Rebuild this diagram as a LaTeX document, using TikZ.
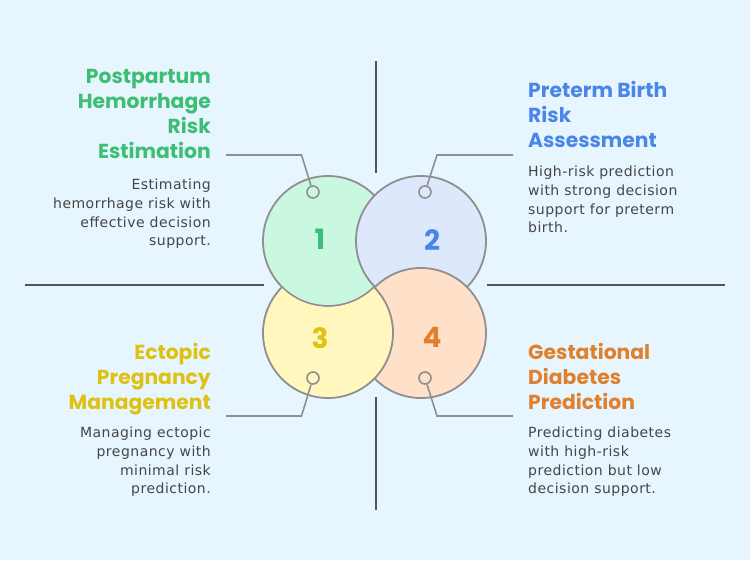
\documentclass[tikz,border=0pt]{standalone}
\usepackage{fontspec}
\usepackage{tikz}
\usetikzlibrary{positioning}
\usepackage{xcolor}
\newfontfamily\headfont{Poppins}
\newfontfamily\bodyfont{DejaVu Sans}[LetterSpace=3.5]
\definecolor{bgblue}{HTML}{E7F6FE}
\definecolor{axisgray}{HTML}{555555}
\definecolor{linegray}{HTML}{8F8F8F}
\definecolor{bodygray}{HTML}{454545}
\definecolor{titlegreen}{HTML}{3CBE74}
\definecolor{titleblue}{HTML}{4A86E8}
\definecolor{titleyellow}{HTML}{DEC112}
\definecolor{titleorange}{HTML}{E07F2C}
\definecolor{fillgreen}{HTML}{C9F7DF}
\definecolor{fillblue}{HTML}{DDE8FD}
\definecolor{fillyellow}{HTML}{FFF7BE}
\definecolor{fillpeach}{HTML}{FFE0C8}
\tikzset{%
	every petal/.style={
		circle,
		draw=linegray,
		line width=1.8pt,
		minimum size=130pt,
		inner sep=0pt
	},
	pin dot/.style={
		circle,
		draw=linegray,
		line width=1.6pt,
		minimum size=12pt,
		inner sep=0pt
	},
}

\begin{document}
\begin{tikzpicture}[
			x=1pt, y=-1pt,
			axis/.style={draw=axisgray, line width=2pt},
			link/.style={draw=linegray, line width=1.6pt},
			num/.style={font=\headfont\bfseries\fontsize{28}{28}\selectfont},
			head/.style={inner sep=0pt, font=\headfont\bfseries\fontsize{20.3}{25}\selectfont},
			body/.style={inner sep=0pt, text=bodygray, font=\bodyfont\fontsize{14}{18.7}\selectfont}
			]
			
			% Background and axes
			\fill[bgblue] (0,0) rectangle (750,560);
			\draw[axis] (375.5,61) -- (375.5,173);
			\draw[axis] (375.5,397) -- (375.5,510);
			\draw[axis] (25,285) -- (264,285);
			\draw[axis] (487,285) -- (725,285);
			
			% Circles (1 under 2, 2 under 4, 4 under 3, 3 under 1)
			\node[every petal, fill=fillgreen] (c1) at (328,241) {};
			\node[every petal, fill=fillblue] (c2) at (421,241) {};
			\node[every petal, fill=fillpeach] (c4) at (421,333) {};
			\begin{scope}[even odd rule]
				\clip (0,0) rectangle (750,560) (c1.center) circle (65.9pt);
				\node[every petal, fill=fillyellow] (c3) at (328,333) {};
			\end{scope}
			
			\node[num, text=titlegreen] (n1) at (320,239) {1};
			\node[num, text=titleblue] (n2) at (432,240) {2};
			\node[num, text=titleyellow] (n3) at (320,338) {3};
			\node[num, text=titleorange] (n4) at (432,337) {4};
			
			% Pins and connectors
			\node[pin dot] (d1) at (313,192) {};
			\node[pin dot] (d2) at (425,192) {};
			\node[pin dot] (d3) at (313,378) {};
			\node[pin dot] (d4) at (425,378) {};
			\coordinate (k1) at (301.5,155);
			\coordinate (e1) at (226,155);
			\coordinate (k2) at (437,155);
			\coordinate (e2) at (513,155);
			\coordinate (k3) at (301.5,416);
			\coordinate (e3) at (226,416);
			\coordinate (k4) at (437,416);
			\coordinate (e4) at (513,416);
			\draw[link] (d1) -- (k1) -- (e1);
			\draw[link] (d2) -- (k2) -- (e2);
			\draw[link] (d3) -- (k3) -- (e3);
			\draw[link] (d4) -- (k4) -- (e4);
			
			% Labels
			\node[head, text=titlegreen, align=right, anchor=north east] (t1) at (211,69) {Postpartum\\Hemorrhage\\Risk\\Estimation};
			\node[body, align=right, anchor=north east] (b1) at (211,179) {Estimating\\hemorrhage risk with\\effective decision\\support.};
			\node[head, text=titleblue, align=left, anchor=north west] (t2) at (528,81) {Preterm Birth\\Risk\\Assessment};
			\node[body, align=left, anchor=north west] (b2) at (528,166) {High-risk prediction\\with strong decision\\support for preterm\\birth.};
			\node[head, text=titleyellow, align=right, anchor=north east] (t3) at (211,343) {Ectopic\\Pregnancy\\Management};
			\node[body, align=right, anchor=north east] (b3) at (211,427) {Managing ectopic\\pregnancy with\\minimal risk\\prediction.};
			\node[head, text=titleorange, align=left, anchor=north west] (t4) at (528,343) {Gestational\\Diabetes\\Prediction};
			\node[body, align=left, anchor=north west] (b4) at (528,427) {Predicting diabetes\\with high-risk\\prediction but low\\decision support.};
			
		\end{tikzpicture}
\end{document}
